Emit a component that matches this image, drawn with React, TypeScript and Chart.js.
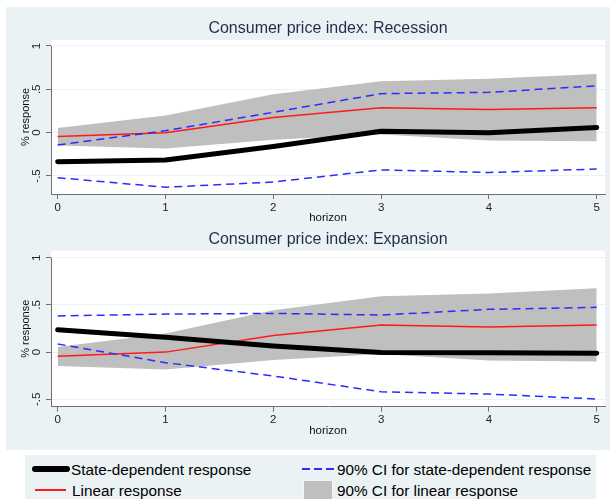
import React, { useEffect, useRef } from 'react';
import { Chart, registerables } from 'chart.js';

Chart.register(...registerables);
Chart.defaults.font.family = '"Liberation Sans", Arial, sans-serif';

// ---------- data ----------
const horizon = [0, 1, 2, 3, 4, 5];
const xTickLabels = ['0', '1', '2', '3', '4', '5'];
const yTickValues = [-0.5, 0, 0.5, 1];
const yTickLabels = ['-.5', '0', '.5', '1'];

const linearResponse = [-0.045, 0.0, 0.175, 0.288, 0.266, 0.287];
const linearCIUpper = [0.055, 0.197, 0.443, 0.592, 0.622, 0.677];
const linearCILower = [-0.147, -0.183, -0.083, -0.02, -0.09, -0.1];

const recessionState = [-0.335, -0.315, -0.16, 0.015, 0.0, 0.06];
const recessionCIUpper = [-0.142, 0.023, 0.235, 0.45, 0.465, 0.54];
const recessionCILower = [-0.52, -0.63, -0.57, -0.43, -0.46, -0.42];

const expansionState = [0.238, 0.157, 0.065, -0.005, -0.008, -0.012];
const expansionCIUpper = [0.383, 0.403, 0.41, 0.393, 0.453, 0.474];
const expansionCILower = [0.086, -0.112, -0.253, -0.42, -0.444, -0.497];

const legendLabels = [
  'State-dependent response',
  '90% CI for state-dependent response',
  'Linear response',
  '90% CI for linear response',
];

// ---------- styles ----------
const PANEL_BG = '#EAF2F3';
const AXIS_COLOR = '#707070';
const BAND_COLOR = '#BFBFBF';
const RED = '#FF1A1A';
const BLUE = '#2B2BFF';
const FONT = '"Liberation Sans", Arial, sans-serif';

const plotBg = {
  id: 'plotBg',
  beforeDraw(chart: any) {
    const { ctx, chartArea: a } = chart;
    ctx.save();
    ctx.fillStyle = '#ffffff';
    ctx.fillRect(a.left, a.top, a.right - a.left, a.bottom - a.top);
    ctx.restore();
  },
  beforeDatasetsDraw(chart: any) {
    const { ctx, chartArea: a, scales } = chart;
    const yTop = scales.y.getPixelForValue(yTickValues[yTickValues.length - 1]);
    ctx.save();
    ctx.strokeStyle = AXIS_COLOR;
    ctx.lineWidth = 1;
    ctx.beginPath();
    ctx.moveTo(Math.round(a.left) + 0.5, yTop);
    ctx.lineTo(Math.round(a.left) + 0.5, a.bottom);
    ctx.stroke();
    ctx.restore();
  },
};

type Props = {
  title: string;
  state: number[];
  ciUpper: number[];
  ciLower: number[];
  yMin: number;
  yMax: number;
  height: number;
  titlePadTop: number;
  titlePadBottom: number;
  xAxisHeight: number;
  xTitlePadBottom: number;
};

const pts = (arr: number[]) => horizon.map((h, i) => ({ x: h, y: arr[i] }));

function IRFChart(p: Props) {
  const ref = useRef<HTMLCanvasElement>(null);
  useEffect(() => {
    const chart = new Chart(ref.current as HTMLCanvasElement, {
      type: 'line',
      data: {
        datasets: [
          {
            label: 'ci-lin-lower',
            data: pts(linearCILower),
            borderColor: 'rgba(0,0,0,0)',
            borderWidth: 0,
            pointRadius: 0,
            fill: false,
            order: 10,
          },
          {
            label: legendLabels[3],
            data: pts(linearCIUpper),
            borderColor: 'rgba(0,0,0,0)',
            borderWidth: 0,
            pointRadius: 0,
            fill: '-1',
            backgroundColor: BAND_COLOR,
            order: 9,
          },
          {
            label: legendLabels[2],
            data: pts(linearResponse),
            borderColor: RED,
            borderWidth: 1.5,
            pointRadius: 0,
            fill: false,
            order: 3,
          },
          {
            label: legendLabels[1],
            data: pts(p.ciUpper),
            borderColor: BLUE,
            borderWidth: 1.5,
            borderDash: [8, 5],
            pointRadius: 0,
            fill: false,
            order: 2,
          },
          {
            label: 'ci-state-lower',
            data: pts(p.ciLower),
            borderColor: BLUE,
            borderWidth: 1.5,
            borderDash: [8, 5],
            pointRadius: 0,
            fill: false,
            order: 2,
          },
          {
            label: legendLabels[0],
            data: pts(p.state),
            borderColor: '#000000',
            borderWidth: 5,
            borderCapStyle: 'round',
            borderJoinStyle: 'round',
            pointRadius: 0,
            fill: false,
            order: 1,
          },
        ] as any,
      },
      options: {
        animation: false,
        responsive: false,
        events: [],
        layout: { padding: { left: 0, right: 5, top: 0, bottom: 0 } },
        plugins: {
          legend: { display: false },
          tooltip: { enabled: false },
          title: {
            display: true,
            text: p.title,
            color: '#1f2d4d',
            fullSize: false,
            font: { size: 16, weight: 'normal', lineHeight: 1.2 },
            padding: { top: p.titlePadTop, bottom: p.titlePadBottom },
          },
          filler: { drawTime: 'beforeDatasetsDraw' },
        } as any,
        scales: {
          x: {
            type: 'linear',
            min: -0.062,
            max: 5.077,
            bounds: 'data',
            afterBuildTicks: (axis: any) => {
              axis.ticks = horizon.map((v) => ({ value: v }));
            },
            afterFit: (axis: any) => {
              axis.height = p.xAxisHeight;
            },
            ticks: {
              callback: (_v: any, i: number) => xTickLabels[i],
              color: '#222',
              font: { size: 11.5 },
              padding: 1.5,
              maxRotation: 0,
              autoSkip: false,
            },
            grid: {
              drawOnChartArea: false,
              drawTicks: true,
              tickLength: 5,
              tickColor: AXIS_COLOR,
              tickWidth: 1,
            },
            border: { display: true, color: AXIS_COLOR, width: 1 },
            title: {
              display: true,
              text: 'horizon',
              color: '#111',
              font: { size: 11.5 },
              padding: { top: 0, bottom: p.xTitlePadBottom },
            },
          },
          y: {
            type: 'linear',
            min: p.yMin,
            max: p.yMax,
            bounds: 'data',
            afterBuildTicks: (axis: any) => {
              axis.ticks = yTickValues.map((v) => ({ value: v }));
            },
            afterFit: (axis: any) => {
              axis.width = 51;
            },
            ticks: {
              callback: (_v: any, i: number) => yTickLabels[i],
              minRotation: 90,
              maxRotation: 90,
              crossAlign: 'center',
              padding: 2.5,
              color: '#222',
              font: { size: 11.5 },
            },
            grid: {
              color: PANEL_BG,
              lineWidth: 1,
              drawTicks: true,
              tickLength: 5,
              tickColor: AXIS_COLOR,
              tickWidth: 1,
            },
            border: { display: false },
            title: {
              display: true,
              text: '% response',
              color: '#111',
              font: { size: 11 },
              padding: { top: 19.4, bottom: 0 },
            },
          },
        } as any,
      },
      plugins: [plotBg],
    });
    return () => chart.destroy();
  }, []);
  return (
    <canvas
      ref={ref}
      width={610}
      height={p.height}
      style={{ display: 'block', width: 610, height: p.height }}
    />
  );
}

function LegendSwatch({ kind }: { kind: number }) {
  if (kind === 0) {
    return (
      <svg width={40} height={12} style={{ display: 'block' }}>
        <line x1={4} y1={6} x2={36} y2={6} stroke="#000" strokeWidth={6} strokeLinecap="round" />
      </svg>
    );
  }
  if (kind === 1) {
    return (
      <svg width={34} height={12} style={{ display: 'block' }}>
        <line x1={0} y1={6} x2={32} y2={6} stroke={BLUE} strokeWidth={2} strokeDasharray="8 4" />
      </svg>
    );
  }
  if (kind === 2) {
    return (
      <svg width={34} height={12} style={{ display: 'block' }}>
        <line x1={0} y1={6} x2={31} y2={6} stroke={RED} strokeWidth={2} />
      </svg>
    );
  }
  return (
    <div
      style={{
        width: 30,
        height: 22,
        background: BAND_COLOR,
        boxSizing: 'border-box',
        border: '1px solid #f4f4f4',
      }}
    />
  );
}

export default function App() {
  const textStyle: React.CSSProperties = {
    position: 'absolute',
    fontFamily: FONT,
    fontSize: 15.3,
    lineHeight: '18px',
    color: '#000',
    whiteSpace: 'nowrap',
  };
  return (
    <div
      style={{
        position: 'fixed',
        left: 0,
        top: 0,
        width: 610,
        height: 499,
        background: '#ffffff',
        overflow: 'hidden',
      }}
    >
      <div style={{ position: 'absolute', left: 6, top: 7, width: 604, height: 443, background: PANEL_BG }} />
      <div style={{ position: 'absolute', left: 0, top: 0 }}>
        <IRFChart
          title="Consumer price index: Recession"
          state={recessionState}
          ciUpper={recessionCIUpper}
          ciLower={recessionCILower}
          yMin={-0.708}
          yMax={1.069}
          height={228}
          titlePadTop={19}
          titlePadBottom={1.8}
          xAxisHeight={34}
          xTitlePadBottom={3.1}
        />
      </div>
      <div style={{ position: 'absolute', left: 0, top: 228 }}>
        <IRFChart
          title="Consumer price index: Expansion"
          state={expansionState}
          ciUpper={expansionCIUpper}
          ciLower={expansionCILower}
          yMin={-0.578}
          yMax={1.074}
          height={212}
          titlePadTop={2.4}
          titlePadBottom={1.1}
          xAxisHeight={33.3}
          xTitlePadBottom={2.1}
        />
      </div>
      <div style={{ position: 'absolute', left: 25, top: 455, width: 571, height: 60, background: PANEL_BG }} />
      <div style={{ position: 'absolute', left: 31, top: 463 }}>
        <LegendSwatch kind={0} />
      </div>
      <div style={{ ...textStyle, left: 71, top: 460.7 }}>{legendLabels[0]}</div>
      <div style={{ position: 'absolute', left: 302, top: 463 }}>
        <LegendSwatch kind={1} />
      </div>
      <div style={{ ...textStyle, left: 337, top: 460.7 }}>{legendLabels[1]}</div>
      <div style={{ position: 'absolute', left: 35, top: 484 }}>
        <LegendSwatch kind={2} />
      </div>
      <div style={{ ...textStyle, left: 72, top: 481.7 }}>{legendLabels[2]}</div>
      <div style={{ position: 'absolute', left: 303, top: 480 }}>
        <LegendSwatch kind={3} />
      </div>
      <div style={{ ...textStyle, left: 337, top: 481.7 }}>{legendLabels[3]}</div>
    </div>
  );
}
